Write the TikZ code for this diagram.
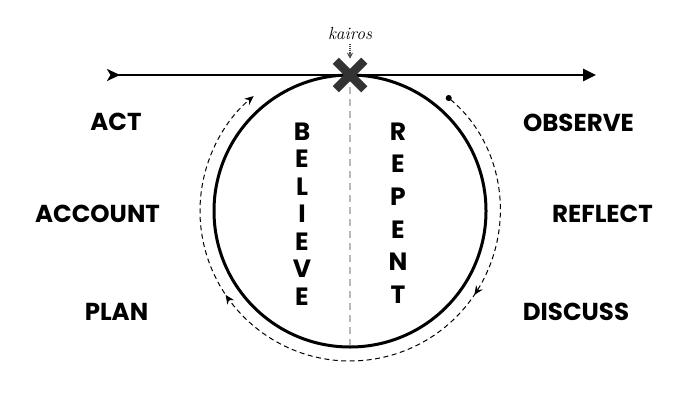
\documentclass[tikz,border=0pt]{standalone}
\usepackage{fontspec}
\setsansfont{Poppins}
\usetikzlibrary{arrows.meta,shapes.misc,decorations.markings}

\begin{document}
\begin{tikzpicture}[x=1pt,y=1pt,
  stage/.style={font=\sffamily\bfseries\fontsize{24.5}{24.5}\selectfont,inner sep=0pt},
  letter/.style={font=\sffamily\bfseries\fontsize{25}{25}\selectfont,inner sep=0pt},
  cycleline/.style={line width=1pt,dash pattern=on 5pt off 3.5pt},
  midarrow/.style={postaction={decorate},decoration={markings,
     mark=at position 0.3 with {\arrow{Stealth[length=9pt,width=8pt]}},
     mark=at position 0.7 with {\arrow{Stealth[length=9pt,width=8pt]}}}},
]
\useasboundingbox (0,0) rectangle (700,400);

% Timeline
\coordinate (start) at (107,325);
\coordinate (stop) at (596,325);
\draw[line width=2.6pt,{Stealth[reversed,length=13pt,width=12pt,inset=3.5pt]}-{Triangle[length=13pt,width=12pt]}]
  (start) -- (stop);

% Circle and divider
\coordinate (ctr) at (350,189);
\coordinate (base) at (350,55);
\draw[line width=3pt] (ctr) circle[radius=136];
\draw[gray!55,line width=2.2pt,dash pattern=on 7pt off 5pt] (350,325) -- (base);

% Kairos mark
\node[cross out,draw=black!80,line width=8.5pt,minimum size=20pt,inner sep=0pt] (kx) at (350,325) {};
\node[font=\itshape\fontsize{17.5}{17.5}\selectfont] (kairos) at (350,366) {kairos};
\draw[black!70,line width=1.2pt,densely dotted,-{Stealth[length=6pt,width=6pt]},shorten >=2pt]
  (kairos.south) -- (kx.north);

% Cycle around the circle
\draw[cycleline,midarrow,{Circle[length=6pt]}-{Stealth[length=9pt,width=8pt]}]
  ([shift={(50:150)}]ctr) arc[start angle=50,end angle=-230,radius=150];

% Believe / Repent
\foreach \ch [count=\i from 0] in {B,E,L,I,E,V,E}
  \node[letter] (b\i) at (302,268.5-27.5*\i) {\ch};
\foreach \ch [count=\i from 0] in {R,E,P,E,N,T}
  \node[letter] (r\i) at (398,268.5-32.6*\i) {\ch};

% Stages, left
\node[stage] (act) at (116,278) {ACT};
\node[stage] (account) at (97.5,186) {ACCOUNT};
\node[stage] (plan) at (116.5,88) {PLAN};

% Stages, right
\node[stage] (observe) at (578.5,277) {OBSERVE};
\node[stage] (reflect) at (602.5,186) {REFLECT};
\node[stage] (discuss) at (576,88) {DISCUSS};

\end{tikzpicture}
\end{document}
